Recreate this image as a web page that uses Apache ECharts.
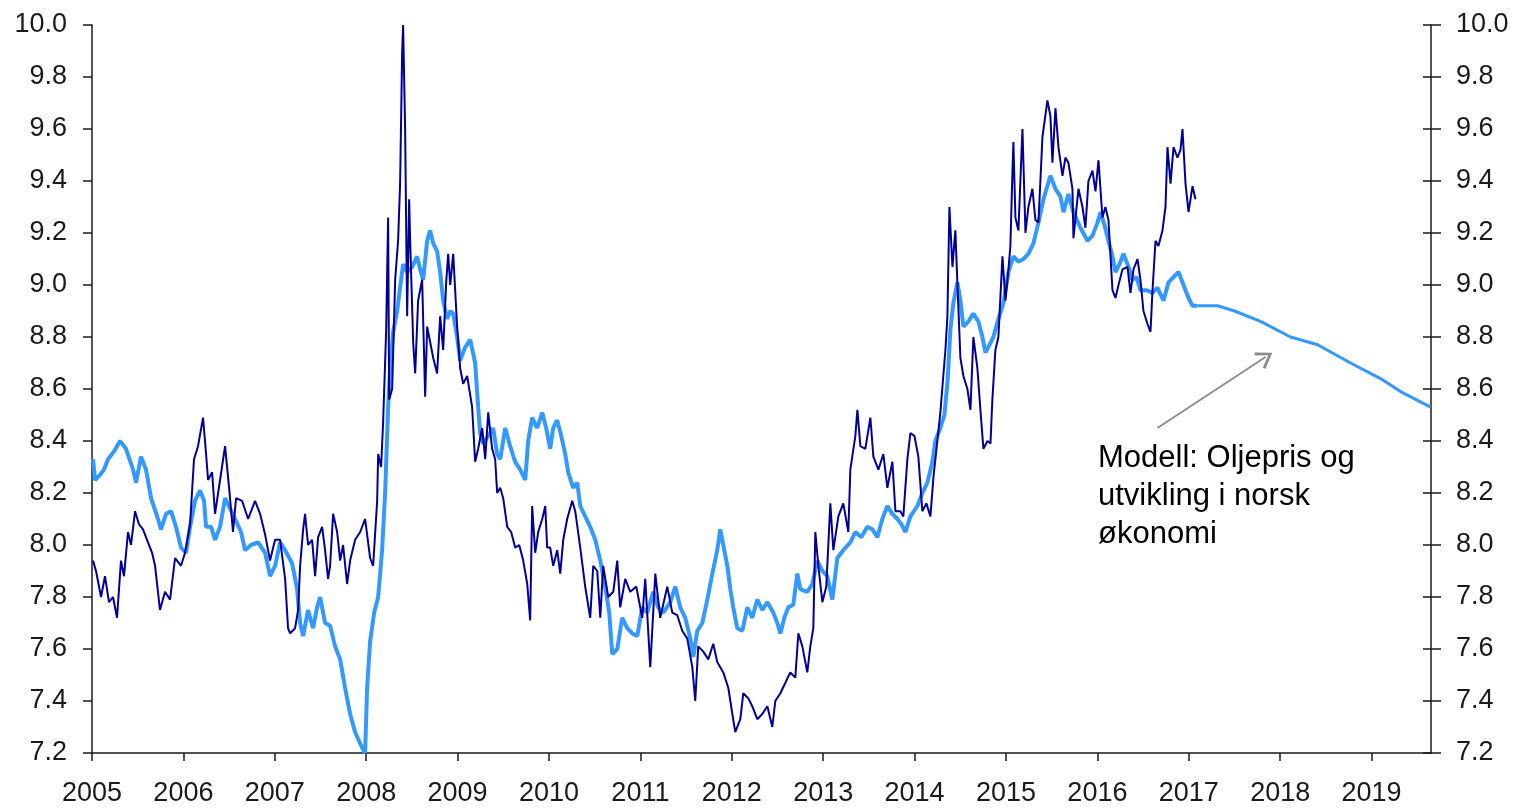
<!DOCTYPE html>
<html>
<head>
<meta charset="utf-8">
<title>EURNOK og modell</title>
<script src="https://cdn.jsdelivr.net/npm/echarts@6/dist/echarts.min.js"></script>
<style>
  html, body { margin: 0; padding: 0; background: #fff; }
  #chart { width: 1513px; height: 810px; }
</style>
</head>
<body>
<div id="chart"></div>
<script>
// akse
var yearTicks = [2005, 2006, 2007, 2008, 2009, 2010, 2011, 2012, 2013, 2014, 2015, 2016, 2017, 2018, 2019];

// faktisk kurs (mørk blå)
var actualYears = [
  2005.011, 2005.044, 2005.099, 2005.142, 2005.186, 2005.230, 2005.274, 2005.317, 2005.350, 2005.394,
  2005.427, 2005.471, 2005.514, 2005.558, 2005.613, 2005.657, 2005.690, 2005.744, 2005.799, 2005.854,
  2005.909, 2005.974, 2006.018, 2006.073, 2006.116, 2006.160, 2006.215, 2006.248, 2006.270, 2006.314,
  2006.346, 2006.401, 2006.456, 2006.500, 2006.543, 2006.576, 2006.642, 2006.708, 2006.784, 2006.839,
  2006.894, 2006.948, 2007.003, 2007.058, 2007.113, 2007.145, 2007.167, 2007.222, 2007.255, 2007.277,
  2007.310, 2007.331, 2007.364, 2007.408, 2007.441, 2007.474, 2007.518, 2007.550, 2007.583, 2007.605,
  2007.638, 2007.682, 2007.715, 2007.747, 2007.791, 2007.824, 2007.879, 2007.934, 2007.988, 2008.021,
  2008.043, 2008.076, 2008.120, 2008.131, 2008.163, 2008.185, 2008.218, 2008.240, 2008.251, 2008.284,
  2008.317, 2008.349, 2008.371, 2008.393, 2008.404, 2008.426, 2008.448, 2008.470, 2008.481, 2008.514,
  2008.536, 2008.568, 2008.612, 2008.645, 2008.667, 2008.700, 2008.733, 2008.776, 2008.809, 2008.842,
  2008.875, 2008.897, 2008.919, 2008.952, 2008.995, 2009.028, 2009.061, 2009.105, 2009.159, 2009.192,
  2009.225, 2009.269, 2009.302, 2009.335, 2009.378, 2009.411, 2009.433, 2009.466, 2009.499, 2009.543,
  2009.586, 2009.630, 2009.674, 2009.718, 2009.762, 2009.794, 2009.816, 2009.849, 2009.882, 2009.926,
  2009.959, 2009.980, 2010.013, 2010.046, 2010.090, 2010.123, 2010.156, 2010.199, 2010.254, 2010.287,
  2010.342, 2010.396, 2010.451, 2010.484, 2010.528, 2010.561, 2010.593, 2010.648, 2010.703, 2010.747,
  2010.779, 2010.834, 2010.889, 2010.955, 2011.020, 2011.053, 2011.108, 2011.163, 2011.217, 2011.294,
  2011.349, 2011.403, 2011.458, 2011.513, 2011.568, 2011.600, 2011.633, 2011.688, 2011.743, 2011.797,
  2011.841, 2011.907, 2011.962, 2012.006, 2012.038, 2012.093, 2012.126, 2012.181, 2012.224, 2012.279,
  2012.334, 2012.389, 2012.443, 2012.476, 2012.531, 2012.586, 2012.640, 2012.695, 2012.728, 2012.772,
  2012.826, 2012.859, 2012.892, 2012.914, 2012.947, 2012.991, 2013.034, 2013.078, 2013.111, 2013.166,
  2013.220, 2013.275, 2013.297, 2013.352, 2013.374, 2013.407, 2013.461, 2013.516, 2013.549, 2013.604,
  2013.658, 2013.702, 2013.757, 2013.790, 2013.844, 2013.877, 2013.921, 2013.954, 2013.998, 2014.041,
  2014.085, 2014.129, 2014.173, 2014.206, 2014.249, 2014.282, 2014.337, 2014.359, 2014.381, 2014.414,
  2014.446, 2014.468, 2014.501, 2014.534, 2014.578, 2014.611, 2014.643, 2014.687, 2014.720, 2014.753,
  2014.797, 2014.830, 2014.851, 2014.884, 2014.917, 2014.961, 2014.994, 2015.027, 2015.048, 2015.070,
  2015.081, 2015.103, 2015.136, 2015.180, 2015.213, 2015.245, 2015.289, 2015.322, 2015.355, 2015.399,
  2015.453, 2015.486, 2015.508, 2015.541, 2015.574, 2015.618, 2015.650, 2015.683, 2015.727, 2015.738,
  2015.793, 2015.837, 2015.869, 2015.902, 2015.946, 2015.979, 2016.012, 2016.055, 2016.088, 2016.121,
  2016.165, 2016.198, 2016.231, 2016.274, 2016.329, 2016.362, 2016.395, 2016.439, 2016.471, 2016.504,
  2016.548, 2016.581, 2016.603, 2016.636, 2016.668, 2016.712, 2016.745, 2016.767, 2016.800, 2016.833,
  2016.876, 2016.909, 2016.931, 2016.964, 2016.997, 2017.041, 2017.073
];
var actualValues = [
  7.94, 7.90, 7.80, 7.88, 7.78, 7.80, 7.72, 7.94, 7.88, 8.05,
  8.00, 8.13, 8.08, 8.06, 8.01, 7.97, 7.92, 7.75, 7.82, 7.79,
  7.95, 7.92, 7.97, 8.08, 8.33, 8.38, 8.49, 8.35, 8.25, 8.28,
  8.12, 8.25, 8.38, 8.22, 8.05, 8.18, 8.17, 8.10, 8.17, 8.12,
  8.04, 7.94, 8.02, 8.02, 7.87, 7.68, 7.66, 7.68, 7.75, 7.92,
  8.06, 8.12, 8.00, 8.02, 7.88, 8.03, 8.07, 7.98, 7.87, 7.92,
  8.12, 8.05, 7.94, 8.00, 7.85, 7.94, 8.02, 8.05, 8.10, 8.01,
  7.95, 7.92, 8.17, 8.35, 8.30, 8.47, 8.82, 9.26, 8.56, 8.60,
  9.02, 9.17, 9.39, 9.89, 10.00, 9.60, 8.88, 9.33, 9.17, 8.78,
  8.66, 8.94, 9.02, 8.57, 8.84, 8.78, 8.72, 8.66, 8.88, 8.75,
  9.01, 9.12, 9.00, 9.12, 8.84, 8.68, 8.62, 8.65, 8.53, 8.32,
  8.37, 8.45, 8.33, 8.51, 8.37, 8.33, 8.20, 8.22, 8.18, 8.07,
  8.05, 7.99, 8.00, 7.94, 7.85, 7.71, 8.15, 7.97, 8.05, 8.10,
  8.15, 7.99, 7.99, 7.92, 7.98, 7.89, 8.02, 8.10, 8.17, 8.13,
  7.99, 7.84, 7.72, 7.92, 7.90, 7.72, 7.92, 7.80, 7.82, 7.94,
  7.76, 7.87, 7.82, 7.84, 7.72, 7.87, 7.53, 7.89, 7.72, 7.84,
  7.74, 7.73, 7.67, 7.64, 7.53, 7.40, 7.61, 7.59, 7.56, 7.62,
  7.55, 7.51, 7.45, 7.35, 7.28, 7.33, 7.43, 7.41, 7.38, 7.33,
  7.35, 7.38, 7.30, 7.40, 7.43, 7.47, 7.51, 7.49, 7.66, 7.61,
  7.51, 7.61, 7.68, 8.05, 7.92, 7.78, 7.84, 8.16, 7.98, 8.11,
  8.16, 8.05, 8.29, 8.42, 8.52, 8.38, 8.37, 8.49, 8.34, 8.29,
  8.35, 8.22, 8.32, 8.13, 8.13, 8.11, 8.33, 8.43, 8.42, 8.34,
  8.13, 8.16, 8.11, 8.26, 8.40, 8.51, 8.75, 8.88, 9.30, 9.07,
  9.21, 9.01, 8.72, 8.65, 8.60, 8.52, 8.80, 8.68, 8.52, 8.37,
  8.40, 8.39, 8.56, 8.75, 8.80, 9.11, 8.94, 9.06, 9.15, 9.43,
  9.55, 9.26, 9.21, 9.60, 9.20, 9.30, 9.37, 9.25, 9.24, 9.57,
  9.71, 9.65, 9.47, 9.68, 9.53, 9.42, 9.49, 9.47, 9.37, 9.18,
  9.37, 9.30, 9.22, 9.40, 9.44, 9.36, 9.48, 9.26, 9.30, 9.25,
  8.98, 8.95, 9.00, 9.06, 9.07, 8.97, 9.06, 9.10, 9.02, 8.90,
  8.85, 8.82, 8.98, 9.17, 9.15, 9.21, 9.30, 9.53, 9.39, 9.53,
  9.49, 9.52, 9.60, 9.39, 9.28, 9.38, 9.33
];

// modell: oljepris og utvikling i norsk økonomi (lys blå), historikk
var modelYears = [
  2005.011, 2005.033, 2005.088, 2005.131, 2005.175, 2005.241, 2005.306, 2005.372, 2005.449, 2005.482,
  2005.536, 2005.591, 2005.646, 2005.722, 2005.755, 2005.810, 2005.865, 2005.919, 2005.974, 2006.029,
  2006.073, 2006.127, 2006.182, 2006.226, 2006.248, 2006.303, 2006.346, 2006.401, 2006.456, 2006.511,
  2006.565, 2006.631, 2006.675, 2006.740, 2006.817, 2006.894, 2006.948, 2007.003, 2007.058, 2007.113,
  2007.189, 2007.244, 2007.277, 2007.310, 2007.364, 2007.419, 2007.463, 2007.496, 2007.550, 2007.605,
  2007.660, 2007.715, 2007.769, 2007.824, 2007.879, 2007.955, 2007.988, 2008.010, 2008.043, 2008.087,
  2008.131, 2008.174, 2008.207, 2008.240, 2008.262, 2008.295, 2008.339, 2008.371, 2008.404, 2008.448,
  2008.503, 2008.557, 2008.590, 2008.623, 2008.667, 2008.700, 2008.733, 2008.776, 2008.809, 2008.842,
  2008.886, 2008.919, 2008.952, 2008.995, 2009.028, 2009.083, 2009.138, 2009.192, 2009.225, 2009.247,
  2009.280, 2009.335, 2009.389, 2009.433, 2009.466, 2009.521, 2009.575, 2009.630, 2009.685, 2009.740,
  2009.772, 2009.816, 2009.871, 2009.926, 2009.969, 2010.013, 2010.046, 2010.090, 2010.134, 2010.177,
  2010.210, 2010.265, 2010.309, 2010.342, 2010.396, 2010.451, 2010.506, 2010.561, 2010.615, 2010.659,
  2010.692, 2010.747, 2010.801, 2010.856, 2010.911, 2010.966, 2011.020, 2011.075, 2011.141, 2011.195,
  2011.250, 2011.327, 2011.382, 2011.436, 2011.491, 2011.546, 2011.579, 2011.622, 2011.677, 2011.732,
  2011.787, 2011.841, 2011.874, 2011.907, 2011.951, 2011.984, 2012.016, 2012.060, 2012.115, 2012.170,
  2012.224, 2012.279, 2012.334, 2012.389, 2012.454, 2012.498, 2012.531, 2012.575, 2012.618, 2012.673,
  2012.717, 2012.750, 2012.826, 2012.881, 2012.936, 2012.991, 2013.045, 2013.100, 2013.155, 2013.220,
  2013.297, 2013.352, 2013.417, 2013.483, 2013.538, 2013.593, 2013.647, 2013.702, 2013.757, 2013.812,
  2013.856, 2013.899, 2013.954, 2014.030, 2014.085, 2014.140, 2014.195, 2014.227, 2014.282, 2014.326,
  2014.359, 2014.392, 2014.424, 2014.468, 2014.501, 2014.534, 2014.589, 2014.643, 2014.698, 2014.742,
  2014.775, 2014.819, 2014.862, 2014.917, 2014.972, 2015.027, 2015.081, 2015.136, 2015.191, 2015.245,
  2015.300, 2015.355, 2015.410, 2015.486, 2015.541, 2015.596, 2015.629, 2015.683, 2015.738, 2015.815,
  2015.891, 2015.946, 2016.001, 2016.034, 2016.078, 2016.121, 2016.165, 2016.198, 2016.242, 2016.285,
  2016.340, 2016.384, 2016.428, 2016.471, 2016.537, 2016.603, 2016.657, 2016.723, 2016.778, 2016.833,
  2016.888, 2016.942, 2016.997, 2017.041, 2017.095
];
var modelValues = [
  8.33, 8.25, 8.27, 8.29, 8.33, 8.36, 8.40, 8.37, 8.29, 8.24,
  8.34, 8.29, 8.18, 8.10, 8.06, 8.12, 8.13, 8.07, 7.99, 7.97,
  8.07, 8.17, 8.21, 8.17, 8.07, 8.07, 8.02, 8.07, 8.18, 8.14,
  8.10, 8.05, 7.98, 8.00, 8.01, 7.97, 7.88, 7.92, 8.01, 7.98,
  7.93, 7.83, 7.70, 7.65, 7.75, 7.68, 7.76, 7.80, 7.70, 7.69,
  7.61, 7.56, 7.45, 7.35, 7.28, 7.22, 7.20, 7.45, 7.63, 7.74,
  7.80, 7.98, 8.20, 8.53, 8.68, 8.82, 8.90, 8.99, 9.08, 9.05,
  9.07, 9.11, 9.06, 9.02, 9.17, 9.21, 9.16, 9.13, 9.05, 8.94,
  8.87, 8.90, 8.89, 8.80, 8.71, 8.76, 8.79, 8.70, 8.53, 8.43,
  8.39, 8.42, 8.45, 8.35, 8.33, 8.45, 8.38, 8.32, 8.29, 8.25,
  8.40, 8.49, 8.45, 8.51, 8.45, 8.37, 8.45, 8.48, 8.42, 8.35,
  8.28, 8.22, 8.24, 8.15, 8.11, 8.07, 8.02, 7.94, 7.84, 7.74,
  7.58, 7.60, 7.72, 7.68, 7.66, 7.65, 7.76, 7.74, 7.82, 7.76,
  7.74, 7.78, 7.84, 7.76, 7.72, 7.64, 7.57, 7.67, 7.70, 7.79,
  7.89, 7.98, 8.06, 8.00, 7.92, 7.83, 7.76, 7.68, 7.67, 7.76,
  7.72, 7.79, 7.75, 7.78, 7.74, 7.70, 7.66, 7.72, 7.76, 7.77,
  7.89, 7.83, 7.82, 7.85, 7.94, 7.90, 7.88, 7.79, 7.95, 7.98,
  8.01, 8.05, 8.03, 8.07, 8.06, 8.03, 8.10, 8.15, 8.12, 8.10,
  8.08, 8.05, 8.11, 8.15, 8.20, 8.24, 8.32, 8.40, 8.45, 8.50,
  8.62, 8.83, 8.93, 9.01, 8.94, 8.84, 8.86, 8.89, 8.86, 8.80,
  8.74, 8.77, 8.80, 8.87, 8.93, 9.05, 9.11, 9.09, 9.10, 9.12,
  9.16, 9.24, 9.33, 9.42, 9.37, 9.34, 9.28, 9.35, 9.28, 9.22,
  9.17, 9.19, 9.24, 9.28, 9.23, 9.17, 9.11, 9.05, 9.08, 9.12,
  9.07, 9.02, 9.03, 8.98, 8.98, 8.97, 8.99, 8.94, 9.01, 9.03,
  9.05, 9.00, 8.95, 8.92, 8.92
];

// modell, fremskrivning
var forecastYears = [2017.095, 2017.314, 2017.500, 2017.785, 2018.113, 2018.409, 2018.770, 2019.098, 2019.317, 2019.646];
var forecastValues = [8.92, 8.92, 8.90, 8.86, 8.80, 8.77, 8.70, 8.64, 8.59, 8.53];

// pil til modellkurven
var arrowFrom = [2016.657, 8.45];
var arrowTo = [2017.840, 8.723];

function zip(xs, ys) {
	var out = [];
	for (var i = 0; i < xs.length; i++) out.push([xs[i], ys[i]]);
	return out;
}

var FONT = '"Liberation Sans", Arial, sans-serif';
var AXIS_COLOR = '#1a1a1a';

var yBase = {
	type: 'value',
	min: 7.2,
	max: 10.0,
	interval: 0.2,
	splitLine: {show: false},
	axisLine: {show: true, lineStyle: {color: AXIS_COLOR, width: 1.5}},
	axisTick: {show: true, length: 9, lineStyle: {color: AXIS_COLOR, width: 1.5}},
	axisLabel: {
		color: '#1a1a1a', fontSize: 27, fontFamily: FONT, margin: 25,
		formatter: function(v) { return v.toFixed(1); }
	}
};

var chart = echarts.init(document.getElementById('chart'), null, {renderer: 'canvas'});
chart.setOption({
	animation: false,
	backgroundColor: '#fff',
	grid: {left: 92, right: 82, top: 25, bottom: 57},
	xAxis: {
		type: 'value',
		min: 2005,
		max: 2019.65,
		interval: 1,
		splitLine: {show: false},
		axisLine: {lineStyle: {color: AXIS_COLOR, width: 1.5}},
		axisTick: {show: true, length: 8, customValues: yearTicks, lineStyle: {color: AXIS_COLOR, width: 1.5}},
		axisLabel: {
			customValues: yearTicks,
			color: '#1a1a1a', fontSize: 27, fontFamily: FONT, margin: 27,
			formatter: function(v) { return String(Math.round(v)); }
		}
	},
	yAxis: [
		Object.assign({}, yBase, {position: 'left'}),
		Object.assign({}, yBase, {position: 'right', axisTick: {show: true, length: 10, lineStyle: {color: AXIS_COLOR, width: 1.5}}}),
		// innover-ticks på høyre akse (kryssende)
		Object.assign({}, yBase, {
			position: 'right',
			axisLine: {show: false},
			axisLabel: {show: false},
			axisTick: {show: true, inside: true, length: 8, lineStyle: {color: AXIS_COLOR, width: 1.5}}
		})
	],
	series: [
		{
			name: 'Modell',
			type: 'line',
			data: zip(modelYears, modelValues),
			showSymbol: false,
			lineStyle: {color: '#3399ff', width: 4},
			itemStyle: {color: '#3399ff'},
			z: 2
		},
		{
			name: 'Modell fremskrevet',
			type: 'line',
			data: zip(forecastYears, forecastValues),
			showSymbol: false,
			lineStyle: {color: '#3399ff', width: 3},
			itemStyle: {color: '#3399ff'},
			z: 2,
			markLine: {
				silent: true,
				animation: false,
				label: {show: false},
				lineStyle: {color: '#8c8c8c', width: 2, type: 'solid'},
				data: [[
					{coord: arrowFrom, symbol: 'none'},
					{coord: arrowTo, symbol: 'path://M0,10 L5,0 L10,10 L8.6,10.8 L5,3.2 L1.4,10.8 Z', symbolSize: [20, 16]}
				]]
			}
		},
		{
			name: 'EURNOK',
			type: 'line',
			data: zip(actualYears, actualValues),
			showSymbol: false,
			lineStyle: {color: '#000099', width: 2},
			itemStyle: {color: '#000099'},
			z: 3
		}
	],
	graphic: [{
		type: 'text',
		left: 1098,
		top: 439,
		style: {
			text: 'Modell: Oljepris og\nutvikling i norsk\nøkonomi',
			fontSize: 31,
			fontFamily: FONT,
			lineHeight: 38,
			fill: '#000'
		}
	}]
});
</script>
</body>
</html>
